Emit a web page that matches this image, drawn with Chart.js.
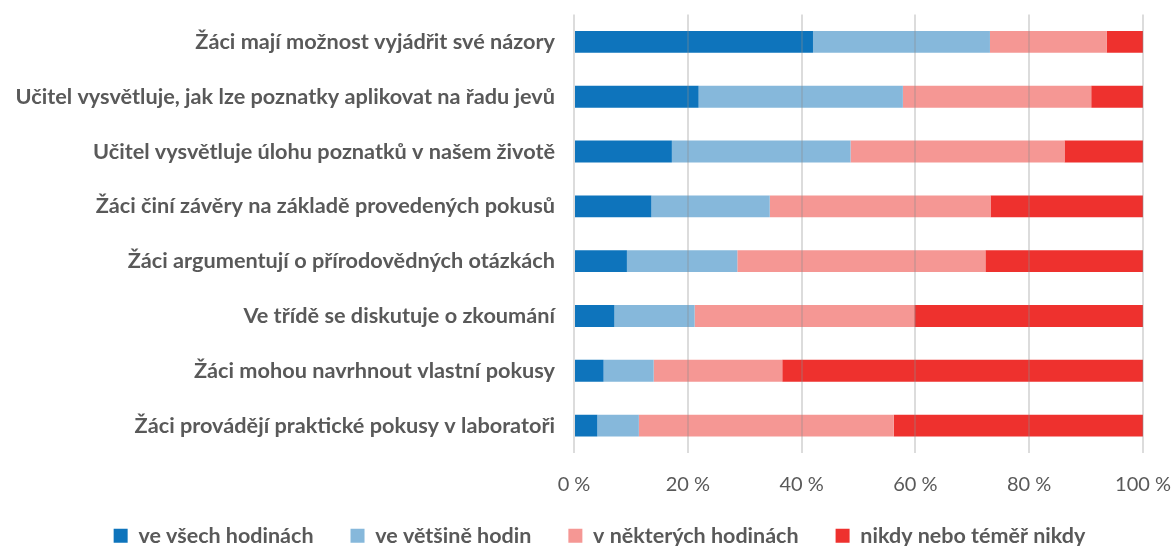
<!DOCTYPE html>
<html lang="cs">
<head>
    <meta charset="UTF-8">
    <title>Pokusy a diskuse v hodinách</title>
    <script src="https://cdn.jsdelivr.net/npm/chart.js"></script>
    <style>
        body {
            margin: 0;
            padding: 0;
            background: #fff;
        }
        #wrap {
            width: 1173px;
            height: 546px;
        }
    </style>
</head>
<body>
    <div id="wrap">
        <canvas id="chart"></canvas>
    </div>

    <script>
        // Categories (top to bottom)
        const categories = [
            'Žáci mají možnost vyjádřit své názory',
            'Učitel vysvětluje, jak lze poznatky aplikovat na řadu jevů',
            'Učitel vysvětluje úlohu poznatků v našem životě',
            'Žáci činí závěry na základě provedených pokusů',
            'Žáci argumentují o přírodovědných otázkách',
            'Ve třídě se diskutuje o zkoumání',
            'Žáci mohou navrhnout vlastní pokusy',
            'Žáci provádějí praktické pokusy v laboratoři'
        ];

        const seriesNames = ['ve všech hodinách', 've většině hodin', 'v některých hodinách', 'nikdy nebo téměř nikdy'];

        // Shares in %
        const allLessons = [42.0, 21.9, 17.2, 13.6, 9.3, 7.1, 5.2, 4.1];
        const mostLessons = [31.1, 35.9, 31.4, 20.8, 19.4, 14.1, 8.8, 7.3];
        const someLessons = [20.5, 33.1, 37.6, 38.8, 43.6, 38.6, 22.6, 44.8];
        const neverLessons = [6.4, 9.1, 13.8, 26.8, 27.7, 40.2, 63.4, 43.8];

        const colors = ['#0e74bc', '#86b8db', '#f59794', '#ee312e'];
        const textGray = '#595959';

        const seriesData = [allLessons, mostLessons, someLessons, neverLessons];

        // nudge the legend a bit right and up, like in the original
        const legendNudge = {
            id: 'legendNudge',
            afterLayout(chart) {
                const lg = chart.legend;
                lg.left += 13; lg.right += 13;
                lg.top -= 10; lg.bottom -= 10;
            }
        };

        const ctx = document.getElementById('chart').getContext('2d');
        new Chart(ctx, {
            type: 'bar',
            data: {
                labels: categories,
                datasets: seriesNames.map((name, i) => ({
                    label: name,
                    data: seriesData[i],
                    backgroundColor: colors[i],
                    borderWidth: 0,
                    barPercentage: 0.8,
                    categoryPercentage: 0.5
                }))
            },
            plugins: [legendNudge],
            options: {
                indexAxis: 'y',
                responsive: true,
                maintainAspectRatio: false,
                animation: false,
                layout: {
                    padding: { top: 14.5, right: 0, bottom: -20.5, left: 0 }
                },
                plugins: {
                    tooltip: { enabled: false },
                    legend: {
                        position: 'bottom',
                        labels: {
                            boxWidth: 14,
                            boxHeight: 14,
                            padding: 37,
                            color: textGray,
                            font: { family: 'Lato', size: 21.5, weight: 'bold' }
                        }
                    }
                },
                scales: {
                    x: {
                        stacked: true,
                        min: 0,
                        max: 100,
                        border: { display: false },
                        grid: {
                            z: 1,
                            color: 'rgba(140,140,140,0.3)',
                            lineWidth: 2,
                            drawTicks: false
                        },
                        afterFit: scale => {
                            scale.height = 45;
                            scale.paddingLeft = 0;
                            scale.paddingRight = 30;
                            scale.paddingTop = 0;
                            scale.paddingBottom = 0;
                        },
                        ticks: {
                            stepSize: 20,
                            padding: 20,
                            color: textGray,
                            font: { family: 'Lato', size: 20 },
                            callback: v => v + ' %'
                        }
                    },
                    y: {
                        stacked: true,
                        border: { display: false },
                        grid: { display: false, drawTicks: false },
                        afterFit: scale => {
                            scale.width = 574;
                            scale.paddingTop = 0;
                            scale.paddingBottom = 0;
                        },
                        ticks: {
                            padding: 19,
                            color: textGray,
                            font: { family: 'Lato', size: 21.7, weight: 'bold' }
                        }
                    }
                }
            }
        });
    </script>
</body>
</html>
